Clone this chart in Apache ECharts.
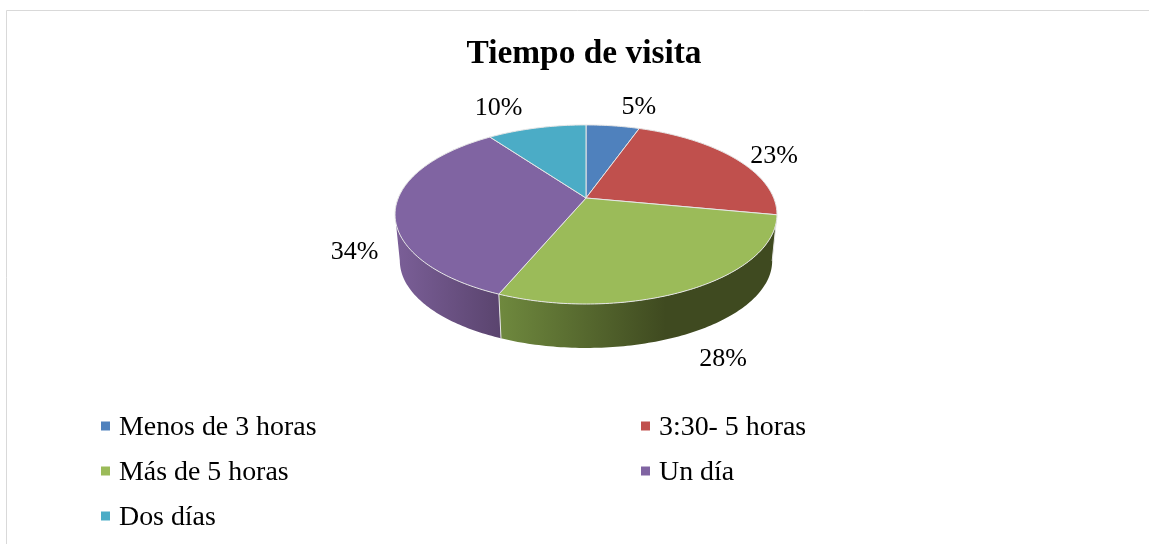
<!DOCTYPE html>
<html>
    <head>
        <meta charset="utf-8">
        <title>Tiempo de visita</title>
        <style media="screen">
            html, body { margin: 0; padding: 0; width: 100%; height: 100%; background: #fff; }
            #main { width: 1149px; height: 544px; }
        </style>
    </head>
    <body>
        <div id="main"></div>
        <script src="https://cdn.jsdelivr.net/npm/echarts@6/dist/echarts.min.js"></script>
        <script type="text/javascript">
        var chartTitle = 'Tiempo de visita';
        var categories = ['Menos de 3 horas', '3:30- 5 horas', 'Más de 5 horas', 'Un día', 'Dos días'];
        var values = [5.4, 22.6, 28.3, 33.7, 10];
        var colors = ['#4f81bd', '#c0504d', '#9bbb59', '#8064a2', '#4bacc6'];

        var FONT = '"Liberation Serif", "Times New Roman", serif';
        var myChart = echarts.init(document.getElementById('main'));

        // perspective of the tilted disc, fitted to the rim of the pie
        var cx = 586, cy = 198, radius = 187.7, ky = 86.5, persp = 0.184;
        var bottomScale = 0.975, depth = 46.6;
        // wall is visible between the two x extremes of the rim
        var wallFrom = Math.acos(-persp), wallTo = 2 * Math.PI - wallFrom;

        var total = values.reduce(function(a, b) { return a + b; }, 0);

        function angleAt(i) {
            var sum = 0;
            for (var k = 0; k < i; k++) sum += values[k];
            return sum / total * 2 * Math.PI;
        }
        function rim(t) {
            var d = 1 + persp * Math.cos(t);
            return [radius * Math.sin(t) / d, -ky * Math.cos(t) / d];
        }
        function topRim(t) {
            var p = rim(t);
            return [cx + p[0], cy + p[1]];
        }
        function bottomRim(t) {
            var p = rim(t);
            return [cx + p[0] * bottomScale, cy + p[1] * bottomScale + depth];
        }
        function arc(fn, a, b) {
            var pts = [], n = Math.max(2, Math.ceil((b - a) * 60));
            for (var i = 0; i <= n; i++) pts.push(fn(a + (b - a) * i / n));
            return pts;
        }

        // shaded side walls: left colour, dark colour, and where the dark one starts
        var wallShades = {
            2: ['#6f893e', '#3f4a20', 0.6],
            3: ['#7b5f98', '#5a446e', 1]
        };
        // label offset from the rim point at the middle of each slice
        var labelOffsets = [[26, -19], [39, -2], [31, 70], [-41, 44], [-38, -20]];

        function renderSlice(i) {
            var a = angleAt(i), b = angleAt(i + 1);
            var children = [];
            var wa = Math.max(a, wallFrom), wb = Math.min(b, wallTo);
            if (wb > wa && wallShades[i]) {
                var shade = wallShades[i];
                children.push({
                    type: 'polygon',
                    shape: { points: arc(topRim, wa, wb).concat(arc(bottomRim, wa, wb).reverse()) },
                    style: {
                        fill: new echarts.graphic.LinearGradient(0, 0, 1, 0, [
                            { offset: 0, color: shade[0] },
                            { offset: shade[2], color: shade[1] },
                            { offset: 1, color: shade[1] }
                        ])
                    }
                });
            }
            if (a > wallFrom && a < wallTo) {
                var p0 = topRim(a), p1 = bottomRim(a);
                children.push({
                    type: 'line',
                    shape: { x1: p0[0], y1: p0[1], x2: p1[0], y2: p1[1] },
                    style: { stroke: '#e6e6e6', lineWidth: 1 }
                });
            }
            children.push({
                type: 'polygon',
                shape: { points: [[cx, cy]].concat(arc(topRim, a, b)) },
                style: { fill: colors[i], stroke: '#e6e6e6', lineWidth: 1, lineJoin: 'round' }
            });
            var mid = topRim((a + b) / 2);
            children.push({
                type: 'text',
                style: {
                    x: mid[0] + labelOffsets[i][0],
                    y: mid[1] + labelOffsets[i][1],
                    text: Math.round(values[i]) + '%',
                    font: '26px ' + FONT,
                    fill: '#000',
                    align: 'center',
                    verticalAlign: 'middle'
                }
            });
            return { type: 'group', children: children };
        }

        var series = categories.map(function(name, i) {
            return {
                name: name,
                type: 'custom',
                coordinateSystem: 'none',
                silent: true,
                itemStyle: { color: colors[i] },
                data: [values[i]],
                renderItem: function() { return renderSlice(i); }
            };
        });

        var legendSpots = [[101, 414], [641, 414], [101, 459], [641, 459], [101, 504]];
        var legends = categories.map(function(name, i) {
            return {
                data: [{ name: name, icon: 'rect' }],
                left: legendSpots[i][0],
                top: legendSpots[i][1],
                padding: 0,
                itemWidth: 9,
                itemHeight: 9,
                itemGap: 0,
                selectedMode: false,
                formatter: '{t|{name}}',
                textStyle: {
                    rich: {
                        t: { fontFamily: FONT, fontSize: 27.9, color: '#000', padding: [4, 0, 0, 4] }
                    }
                }
            };
        });

        var option = {
            backgroundColor: '#fff',
            animation: false,
            title: {
                text: chartTitle,
                left: 579,
                top: 33,
                textAlign: 'center',
                textStyle: { fontFamily: FONT, fontSize: 33.4, fontWeight: 'bold', color: '#000' }
            },
            legend: legends,
            graphic: [
                { type: 'line', shape: { x1: 6.5, y1: 10.5, x2: 1149, y2: 10.5 }, style: { stroke: '#d9d9d9', lineWidth: 1 }, silent: true },
                { type: 'line', shape: { x1: 6.5, y1: 10.5, x2: 6.5, y2: 544 }, style: { stroke: '#d9d9d9', lineWidth: 1 }, silent: true }
            ],
            series: series
        };
        myChart.setOption(option);
        </script>
    </body>
</html>
